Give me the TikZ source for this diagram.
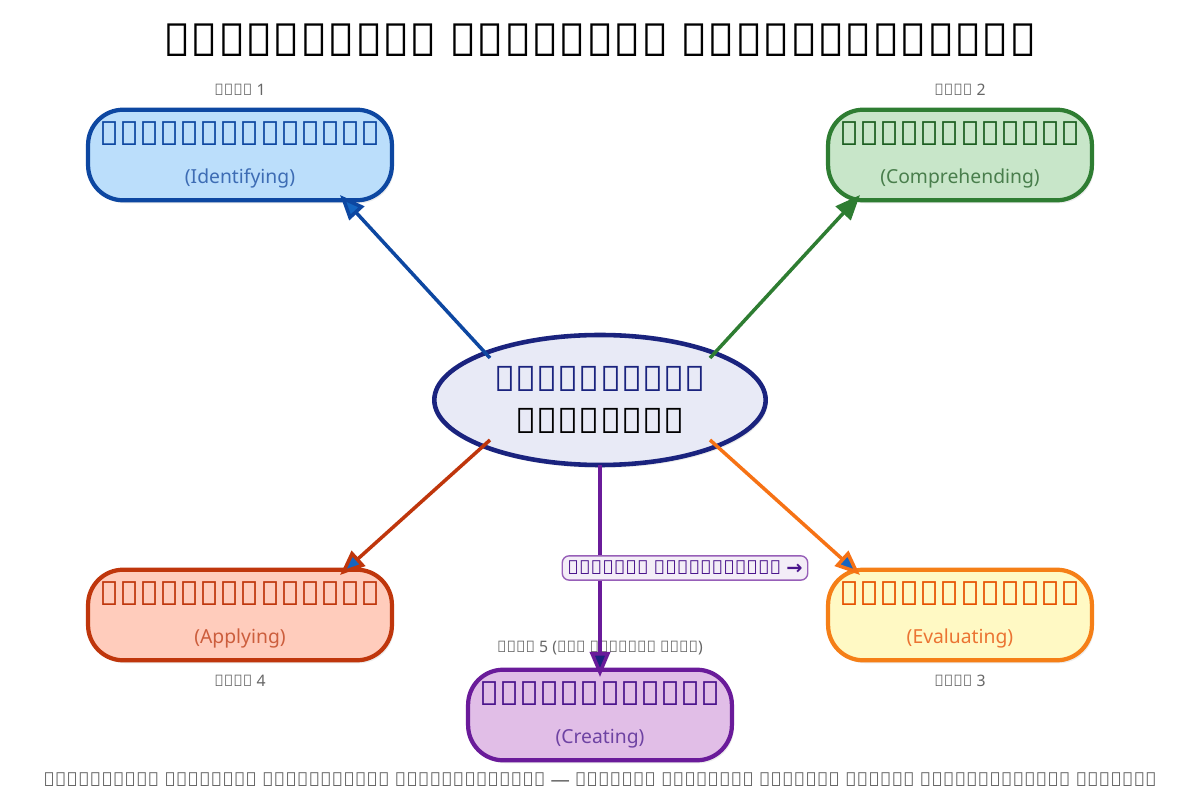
\documentclass[tikz,border=0pt]{standalone}
\usepackage{fontspec}
\setmainfont{Noto Sans}
\newcommand{\tamil}{\relax}
\usetikzlibrary{shapes.geometric,shadows,arrows.meta,positioning}
\definecolor{blueFill}{HTML}{BBDEFB}\definecolor{blueLine}{HTML}{0D47A1}\definecolor{blueText}{HTML}{1565C0}
\definecolor{greenFill}{HTML}{C8E6C9}\definecolor{greenLine}{HTML}{2E7D32}\definecolor{greenText}{HTML}{1B5E20}
\definecolor{redFill}{HTML}{FFCCBC}\definecolor{redLine}{HTML}{BF360C}\definecolor{redText}{HTML}{D84315}
\definecolor{yelFill}{HTML}{FFF9C4}\definecolor{yelLine}{HTML}{F57F17}\definecolor{yelText}{HTML}{E65100}
\definecolor{purFill}{HTML}{E1BEE7}\definecolor{purLine}{HTML}{6A1B9A}\definecolor{purText}{HTML}{4A148C}
\definecolor{hubFill}{HTML}{E8EAF6}\definecolor{hubLine}{HTML}{1A237E}
\definecolor{greyText}{HTML}{666666}
\tikzset{
  skill/.style={draw, line width=1.2pt, rounded corners=10pt, minimum width=2.2cm, minimum height=0.7cm,
    align=center, drop shadow={shadow xshift=0.02cm, shadow yshift=-0.03cm, opacity=0.15}},
  level/.style={font=\tamil\fontsize{4.5}{5}\selectfont, text=greyText},
  link/.style={line width=1pt, -{Triangle[length=0.25cm, width=0.2cm]}},
}
\newcommand{\skilltext}[3]{{\tamil\bfseries\fontsize{9.5}{11}\selectfont\color{#1}#2}\\[-1pt]{\fontsize{5.5}{7}\selectfont\color{#1!80!white}#3}}
\begin{document}
\begin{tikzpicture}[x=1cm,y=-1cm]
	\useasboundingbox (0,0) rectangle (12,8);
	% Title
		\node (title) at (6,0.4) {\tamil\bfseries\fontsize{13}{15}\selectfont வாசிப்புத் திறன்கள் கருத்துப்படம்};
	% Hub
		\node[ellipse, draw=hubLine, fill=hubFill, line width=1.3pt, minimum width=2.6cm, minimum height=1.3cm, align=center,
			drop shadow={shadow xshift=0.02cm, shadow yshift=-0.03cm, opacity=0.15}] (hub) at (6,4)
			{\tamil\bfseries\fontsize{10}{11}\selectfont\color{hubLine}வாசிப்புத்\\ திறன்கள்};
	% Skills
		\node[skill, draw=blueLine, fill=blueFill] (ident) at (2.4,1.55) {\skilltext{blueLine}{கண்டுபிடித்தல்}{(Identifying)}};
		\node[skill, draw=greenLine, fill=greenFill] (compr) at (9.6,1.55) {\skilltext{greenText}{உள்வாங்குதல்}{(Comprehending)}};
		\node[skill, draw=redLine, fill=redFill] (apply) at (2.4,6.15) {\skilltext{redLine}{பயன்படுத்துதல்}{(Applying)}};
		\node[skill, draw=yelLine, fill=yelFill] (evalu) at (9.6,6.15) {\skilltext{yelText}{விமர்சித்தல்}{(Evaluating)}};
		\node[skill, draw=purLine, fill=purFill] (creat) at (6,7.15) {\skilltext{purText}{படைப்பாக்கம்}{(Creating)}};
	% Levels
		\node[level, above=0pt of ident] (lvA) {நிலை 1};
		\node[level, above=0pt of compr] (lvB) {நிலை 2};
		\node[level, below=0pt of evalu] (lvC) {நிலை 3};
		\node[level, below=0pt of apply] (lvD) {நிலை 4};
		\node[level, above=0pt of creat] (lvE) {நிலை 5 (மிக உயர்ந்த நிலை)};
	% Arrows
		\coordinate (hubNW) at (4.9,3.58); \coordinate (hubNE) at (7.1,3.58);
		\coordinate (hubSW) at (4.9,4.4); \coordinate (hubSE) at (7.1,4.4);
		\coordinate (hubS) at (6,4.65);
		\coordinate (identEnd) at (3.4,1.95); \coordinate (comprEnd) at (8.6,1.95);
		\coordinate (applyEnd) at (3.4,5.75); \coordinate (evaluEnd) at (8.6,5.75);
		\coordinate (creatEnd) at (6,6.77);
		\draw[link, draw=blueLine, -{Triangle[length=0.25cm, width=0.2cm, fill=blueText]}] (hubNW) -- (identEnd);
		\draw[link, draw=greenLine] (hubNE) -- (comprEnd);
		\draw[link, draw=redLine, -{Triangle[length=0.25cm, width=0.2cm, fill=blueText]}] (hubSW) -- (applyEnd);
		\draw[link, draw=yelLine!90!red, -{Triangle[length=0.25cm, width=0.2cm, fill=blueText]}] (hubSE) -- (evaluEnd);
		\draw[link, draw=purLine, -{Triangle[length=0.25cm, width=0.2cm, fill=hubLine]}] (hubS) -- (creatEnd);
	% Progress label
		\node[draw=purLine!70, fill=purLine!8, rounded corners=2pt, inner sep=1.5pt, font=\tamil\bfseries\fontsize{5.5}{6}\selectfont,
			text=purText] (prog) at (6.85,5.68) {படிநிலை முன்னேற்றம் {\fontspec{DejaVu Sans}→}};
	% Footer
		\node[font=\tamil\fontsize{5.5}{6}\selectfont, text=greyText] (foot) at (6,7.8)
			{வாசிப்புத் திறன்கள் படிப்படியாக மேம்படுகின்றன — ஒவ்வொரு நிலையும் முந்தைய நிலையை அடிப்படையாகக் கொண்டது};
\end{tikzpicture}
\end{document}
